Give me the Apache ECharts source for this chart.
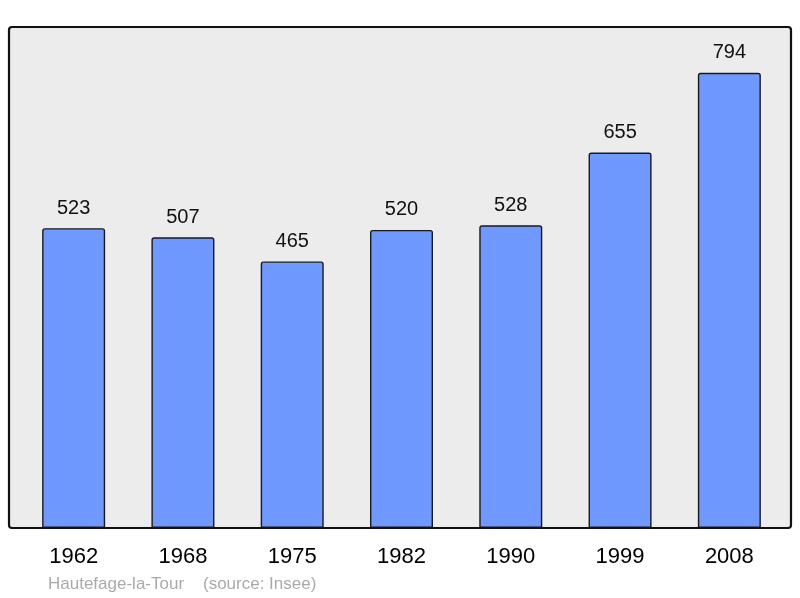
<!DOCTYPE html>
<html>
<head>
<meta charset="utf-8">
<script src="https://cdn.jsdelivr.net/npm/echarts@6/dist/echarts.min.js"></script>
<style>
  html, body { margin: 0; padding: 0; background: #fff; }
  #chart { width: 800px; height: 598px; }
</style>
</head>
<body>
<div id="chart"></div>
<script>
// données de population
var years = ['1962', '1968', '1975', '1982', '1990', '1999', '2008']
var population = [523, 507, 465, 520, 528, 655, 794]
var commune = 'Hautefage-la-Tour'
var source = '(source: Insee)'

var chart = echarts.init(document.getElementById('chart'))
var option = {
  animation: false,
  grid: {
    left: 19,
    right: 16,
    top: 27,
    bottom: 70
  },
  xAxis: {
    type: 'category',
    data: years,
    axisLine: { show: false },
    axisTick: { show: false },
    axisLabel: {
      margin: 18,
      color: '#000',
      fontFamily: 'Liberation Sans',
      fontSize: 22
    }
  },
  yAxis: {
    type: 'value',
    min: 0,
    max: 874,
    show: false,
    splitLine: { show: false }
  },
  graphic: [
    {
      type: 'rect',
      z: -10,
      shape: { x: 9, y: 27, width: 782, height: 501, r: 3 },
      style: { fill: '#ececec', stroke: 'none' }
    },
    {
      type: 'rect',
      z: 100,
      shape: { x: 9, y: 27, width: 782, height: 501, r: 3 },
      style: { fill: 'none', stroke: '#111', lineWidth: 2.2 }
    },
    {
      type: 'text',
      left: 48,
      top: 576,
      style: {
        text: commune + '    ' + source,
        fill: '#aaaaaa',
        font: '17px "Liberation Sans"'
      }
    }
  ],
  series: [
    {
      type: 'bar',
      data: population,
      barWidth: 63,
      itemStyle: {
        color: '#7099ff',
        borderColor: '#1a1a1a',
        borderWidth: 1.4,
        borderRadius: [2, 2, 0, 0]
      },
      label: {
        show: true,
        position: 'top',
        distance: 10,
        color: '#111',
        fontFamily: 'Liberation Sans',
        fontSize: 20
      }
    }
  ]
}
chart.setOption(option)
</script>
</body>
</html>
